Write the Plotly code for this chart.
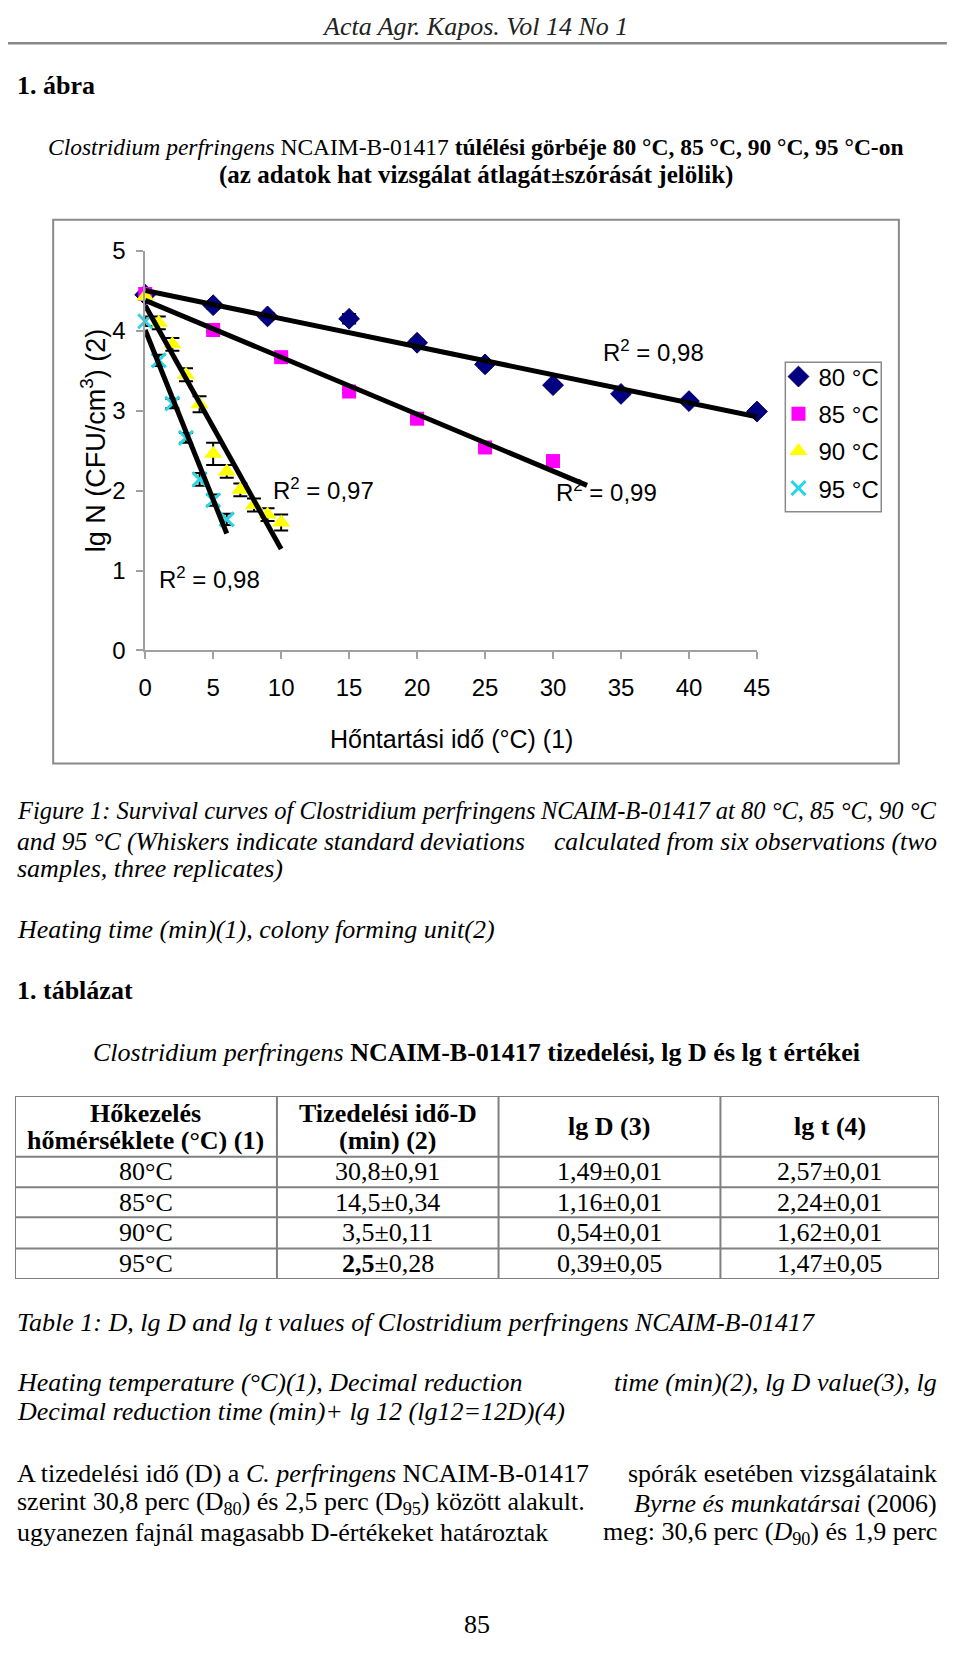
import numpy as np
import plotly.graph_objects as go

# page is 960x1654; the figure sits inside the default 8px body margin
PAGE_W, PAGE_H, OFF = 960, 1654, 8
W, H = PAGE_W - 2 * OFF, PAGE_H - 2 * OFF
SERIF = "Liberation Serif, Times New Roman, serif"
SANS = "Liberation Sans, Arial, sans-serif"

# ---------------- data ----------------
series_names = ["80 °C", "85 °C", "90 °C", "95 °C"]

t80 = [0, 5, 9, 15, 20, 25, 30, 35, 40, 45]
y80 = [4.45, 4.32, 4.18, 4.15, 3.85, 3.58, 3.32, 3.21, 3.12, 2.99]
e80 = [0.03, 0.04, 0.04, 0.06, 0.04, 0.04, 0.04, 0.04, 0.04, 0.04]

t85 = [0, 5, 10, 15, 20, 25, 30]
y85 = [4.46, 4.01, 3.67, 3.24, 2.90, 2.54, 2.37]
e85 = [0.02, 0.02, 0.02, 0.02, 0.02, 0.02, 0.02]

t90 = [0, 1, 2, 3, 4, 5, 6, 7, 8, 9, 10]
y90 = [4.43, 4.10, 3.83, 3.45, 3.08, 2.46, 2.24, 2.01, 1.82, 1.70, 1.60]
e90 = [0.05, 0.08, 0.08, 0.08, 0.10, 0.14, 0.08, 0.08, 0.08, 0.08, 0.10]

t95 = [0, 1, 2, 3, 4, 5, 6]
y95 = [4.12, 3.63, 3.09, 2.66, 2.14, 1.88, 1.64]
e95 = [0.06, 0.07, 0.06, 0.06, 0.08, 0.07, 0.07]

trend_end = [45, 32.5, 10, 6]

r2_labels = ["R<sup>2</sup> = 0,98", "R<sup>2</sup> = 0,99",
             "R<sup>2</sup> = 0,97", "R<sup>2</sup> = 0,98"]
r2_x = [37.4, 33.9, 13.1, 4.7]
r2_y = [3.75, 2.0, 2.02, 0.91]

x_ticks = [0, 5, 10, 15, 20, 25, 30, 35, 40, 45]
y_ticks = [0, 1, 2, 3, 4, 5]

tbl_header = [["Hőkezelés", "hőmérséklete (°C) (1)"],
              ["Tizedelési idő-D", "(min) (2)"],
              ["lg D (3)"], ["lg t (4)"]]
tbl_temp = ["80°C", "85°C", "90°C", "95°C"]
tbl_D = ["30,8±0,91", "14,5±0,34", "3,5±0,11", "<b>2,5</b>±0,28"]
tbl_lgD = ["1,49±0,01", "1,16±0,01", "0,54±0,01", "0,39±0,05"]
tbl_lgt = ["2,57±0,01", "2,24±0,01", "1,62±0,01", "1,47±0,05"]

# ---------------- helpers (page pixel -> paper) ----------------
def px(x):
    return (x - OFF) / W

def py(y):
    return 1 - (y - OFF) / H

fig = go.Figure()

styles = [
    dict(symbol="diamond", size=16, color="#000080", line=dict(color="#000060", width=1)),
    dict(symbol="square", size=14, color="#FF00FF", line=dict(color="#FF00FF", width=0)),
    dict(symbol="triangle-up", size=16, color="#FFFF00", line=dict(color="#FFFF00", width=0)),
    dict(symbol="x-thin", size=14, color="#2CD5E5", line=dict(color="#2CD5E5", width=3)),
]
all_t = [t80, t85, t90, t95]
all_y = [y80, y85, y90, y95]
all_e = [e80, e85, e90, e95]

for i in range(4):
    fig.add_trace(go.Scatter(
        x=all_t[i], y=all_y[i], mode="markers", name=series_names[i],
        marker=styles[i], legendgroup=f"g{i}",
        error_y=dict(type="data", array=all_e[i], color="black", thickness=2, width=7),
        cliponaxis=False,
    ))

for i in range(4):
    k, b = np.polyfit(all_t[i], all_y[i], 1)
    xs = np.array([0, trend_end[i]])
    fig.add_trace(go.Scatter(
        x=xs, y=k * xs + b, mode="lines", line=dict(color="black", width=5),
        showlegend=False, hoverinfo="skip", cliponaxis=False,
    ))

annotations = []
for i in range(4):
    annotations.append(dict(x=r2_x[i], y=r2_y[i], xref="x", yref="y", text=r2_labels[i],
                            showarrow=False, font=dict(family=SANS, size=24, color="black"),
                            xanchor="center", yanchor="middle"))


def ann(x, y, text, size=26, anchor="left", family=SERIF, angle=0, color="black"):
    annotations.append(dict(x=px(x), y=py(y), xref="paper", yref="paper", text=text,
                            showarrow=False, xanchor=anchor, yanchor="middle",
                            textangle=angle,
                            font=dict(family=family, size=size, color=color)))

# axis titles
ann(88, 433, "lg N (CFU/cm<sup>3</sup>) (2)", size=27, anchor="center", family=SANS, angle=-90)
ann(454, 737, "Hőntartási idő (°C) (1)", size=25, anchor="center", family=SANS)

# page text
L, R = 8, 952
ann(478, 13, "<i>Acta Agr. Kapos. Vol 14 No 1</i>", anchor="center", color="#222")
ann(L, 73, "<b>1. ábra</b>")
ann(479, 135, "<i>Clostridium perfringens</i> NCAIM-B-01417 <b>túlélési görbéje 80 °C, 85 °C, 90 °C, 95 °C-on</b>",
    size=23.5, anchor="center")
ann(479, 164, "<b>(az adatok hat vizsgálat átlagát±szórását jelölik)</b>", size=25, anchor="center")

ann(L, 810, "<i>Figure 1: Survival curves of Clostridium perfringens</i>", size=24.5)
ann(R, 810, "<i>NCAIM-B-01417 at 80 °C, 85 °C, 90 °C</i>", size=24.5, anchor="right")
ann(L, 841, "<i>and 95 °C (Whiskers indicate standard deviations</i>", size=25.5)
ann(R, 841, "<i>calculated from six observations (two</i>", size=25.5, anchor="right")
ann(L, 869, "<i>samples, three replicates)</i>")
ann(L, 931, "<i>Heating time (min)(1), colony forming unit(2)</i>")

ann(L, 993, "<b>1. táblázat</b>")
ann(479, 1056, "<i>Clostridium perfringens</i> <b>NCAIM-B-01417 tizedelési, lg D és lg t értékei</b>",
    anchor="center")

ann(L, 1330, "<i>Table 1: D, lg D and lg t values of Clostridium perfringens NCAIM-B-01417</i>")
ann(L, 1391, "<i>Heating temperature (°C)(1), Decimal reduction</i>")
ann(R, 1391, "<i>time (min)(2), lg D value(3), lg</i>", anchor="right")
ann(L, 1421, "<i>Decimal reduction time (min)+ lg 12 (lg12=12D)(4)</i>")

ann(L, 1484, "A tizedelési idő (D) a <i>C. perfringens</i> NCAIM-B-01417")
ann(R, 1484, "spórák esetében vizsgálataink", anchor="right")
ann(L, 1514, "szerint 30,8 perc (D<sub>80</sub>) és 2,5 perc (D<sub>95</sub>) között alakult.")
ann(R, 1514, "<i>Byrne és munkatársai</i> (2006)", anchor="right")
ann(L, 1544, "ugyanezen fajnál magasabb D-értékeket határoztak")
ann(R, 1544, "meg: 30,6 perc (<i>D</i><sub>90</sub>) és 1,9 perc", anchor="right")
ann(480, 1637, "85", anchor="center")

shapes = [
    dict(type="line", xref="paper", yref="paper", x0=px(0), x1=px(960), y0=py(29.5), y1=py(29.5),
         line=dict(color="#888888", width=2.5)),
    dict(type="rect", xref="paper", yref="paper", x0=px(47), x1=px(911), y0=py(762), y1=py(209),
         line=dict(color="#8a8a8a", width=2)),
    # legend frame
    dict(type="rect", xref="paper", yref="paper", x0=px(795), x1=px(893), y0=py(506), y1=py(354),
         line=dict(color="#8a8a8a", width=1.5)),
]

# ---------------- table on its own hidden axes (units = page px) ----------------
col_edges = [8, 275.6, 502, 728.7, 952]
row_edges = [1100, 1161.7, 1192.7, 1223.3, 1255, 1286]
tline = dict(color="#808080", width=2)
for xe in col_edges:
    shapes.append(dict(type="line", xref="x2", yref="y2", x0=xe, x1=xe,
                       y0=row_edges[0], y1=row_edges[-1], line=tline))
for ye in row_edges:
    shapes.append(dict(type="line", xref="x2", yref="y2", x0=col_edges[0], x1=col_edges[-1],
                       y0=ye, y1=ye, line=tline))

col_mid = [(col_edges[j] + col_edges[j + 1]) / 2 for j in range(4)]
hdr_mid = (row_edges[0] + row_edges[1]) / 2
for j, lines in enumerate(tbl_header):
    if len(lines) == 2:
        ys = [hdr_mid - 13.5, hdr_mid + 14]
    else:
        ys = [hdr_mid]
    for ln, yy in zip(lines, ys):
        annotations.append(dict(x=col_mid[j], y=yy, xref="x2", yref="y2", text=f"<b>{ln}</b>",
                                showarrow=False, xanchor="center", yanchor="middle",
                                font=dict(family=SERIF, size=26, color="black")))
cols = [tbl_temp, tbl_D, tbl_lgD, tbl_lgt]
for j, col in enumerate(cols):
    for r, val in enumerate(col):
        yy = (row_edges[r + 1] + row_edges[r + 2]) / 2
        annotations.append(dict(x=col_mid[j], y=yy, xref="x2", yref="y2", text=val,
                                showarrow=False, xanchor="center", yanchor="middle",
                                font=dict(family=SERIF, size=26, color="black")))

axis_common = dict(showline=True, linecolor="#a0a0a0", linewidth=1.5, ticks="outside",
                   ticklen=7, tickcolor="#a0a0a0", tickwidth=1.5, showgrid=False,
                   zeroline=False, tickfont=dict(family=SANS, size=24, color="black"))
hidden = dict(visible=False, showgrid=False, zeroline=False, fixedrange=True)

fig.update_layout(
    width=W, height=H, margin=dict(l=0, r=0, t=0, b=0),
    paper_bgcolor="white", plot_bgcolor="white",
    xaxis=dict(domain=[px(141), px(766)], range=[0, 45], tickvals=x_ticks,
               ticklabelstandoff=8, anchor="y", **axis_common),
    yaxis=dict(domain=[py(647), py(240.7)], range=[0, 5], tickvals=y_ticks,
               ticklabelstandoff=6, anchor="x", **axis_common),
    xaxis2=dict(domain=[px(8), px(952)], range=[8, 952], anchor="y2", **hidden),
    yaxis2=dict(domain=[py(1286), py(1100)], range=[1286, 1100], anchor="x2", **hidden),
    legend=dict(x=px(788), y=py(346), xanchor="left", yanchor="top",
                borderwidth=0, bgcolor="rgba(0,0,0,0)",
                font=dict(family=SANS, size=24, color="black"),
                tracegroupgap=3, itemwidth=30),
    annotations=annotations, shapes=shapes, showlegend=True,
)

fig.write_html("out.html")
